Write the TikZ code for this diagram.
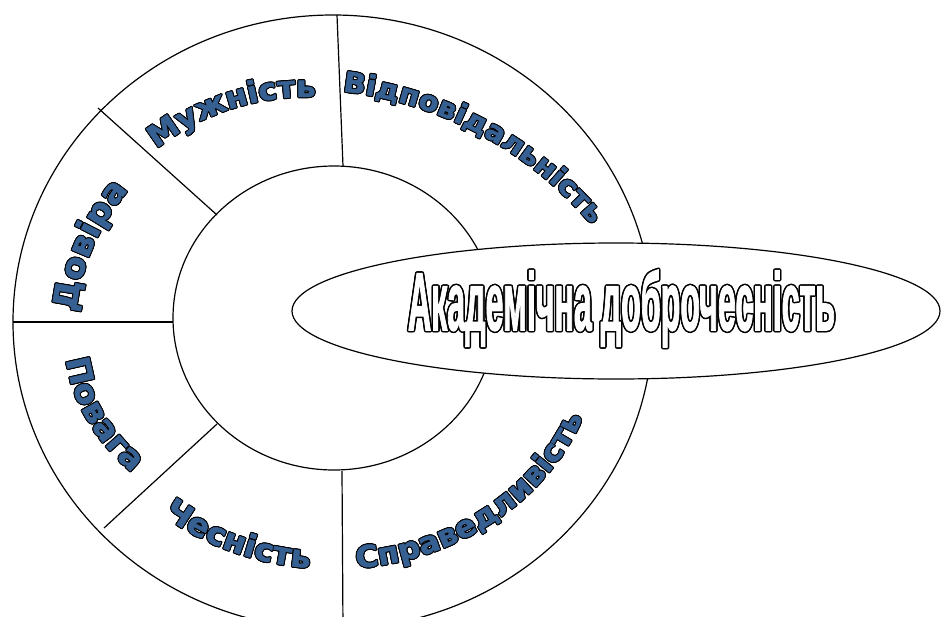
\documentclass[tikz,border=0pt]{standalone}
\usepackage{fontspec}
\usetikzlibrary{decorations.text}
\newfontfamily\lblfam[FakeStretch=1.04,BoldFeatures={FakeBold=1.6}]{DejaVu Sans}
\newfontfamily\ctrfam[BoldFeatures={FakeBold=2.2}]{Liberation Sans}
\definecolor{lblblue}{RGB}{54,96,146}
\newcommand\adtext[1]{\resizebox{427pt}{60pt}{\ctrfam\bfseries\color{#1}Академічна доброчесність}}
% #1 font size, #2 cx, #3 cy, #4 rx, #5 ry, #6 start, #7 end, #8 text
\newcommand\ringlabel[8][30]{%
  \foreach \ang in {0,30,...,330}{
    \path[shift={(\ang:1pt)}, decorate, decoration={text along path, text align=center, text color=black, text={|\lblfam\bfseries\fontsize{#1}{#1}\selectfont|#8}}]
      (#2,#3) ++(#6:#4pt and #5pt) arc[start angle=#6, end angle=#7, x radius=#4pt, y radius=#5pt];
  }
  \path[decorate, decoration={text along path, text align=center, text color=lblblue, text={|\lblfam\bfseries\fontsize{#1}{#1}\selectfont|#8}}]
    (#2,#3) ++(#6:#4pt and #5pt) arc[start angle=#6, end angle=#7, x radius=#4pt, y radius=#5pt];
}
\tikzset{
  ring/.style={draw=black, line width=1.2pt},
  divider/.style={draw=black, line width=1.2pt},
}
\begin{document}
\begin{tikzpicture}[x=1pt,y=1pt]
\useasboundingbox (0,0) rectangle (942,-616);
\fill[white] (0,0) rectangle (942,-616);
% ring
\draw[ring] (333,-322) ellipse[x radius=320pt, y radius=307pt];
\draw[ring] (334,-318) ellipse[x radius=161pt, y radius=152pt];
% divider end points
\coordinate (t1) at (337,-15);   \coordinate (t2) at (343,-166);
\coordinate (u1) at (98,-108);   \coordinate (u2) at (217,-215);
\coordinate (h1) at (13,-322);   \coordinate (h2) at (173,-322);
\coordinate (l1) at (104,-528);  \coordinate (l2) at (217,-424);
\coordinate (b1) at (342,-471);  \coordinate (b2) at (343,-630);
\draw[divider] (t1) -- (t2);
\draw[divider] (u1) -- (u2);
\draw[divider] (h1) -- (h2);
\draw[divider] (l1) -- (l2);
\draw[divider] (b1) -- (b2);
% central ellipse
\draw[ring, fill=white] (616,-311) ellipse[x radius=324pt, y radius=68pt];
% central text
\foreach \ang in {0,30,...,330}{
  \node[anchor=base, inner sep=0pt, shift={(\ang:1.5pt)}] at (621.5,-330) {\adtext{black}};
}
\node[anchor=base, inner sep=0pt] (ad) at (621.5,-330) {\adtext{white}};
% labels
\ringlabel[33]{343}{-332}{268}{237}{200}{120}{Довіра}
\ringlabel[30]{306}{-338}{241}{241}{158}{58}{Мужність}
\ringlabel[28]{300}{-470}{381}{381}{111.8}{11.8}{Відповідальність}
\ringlabel[32]{333}{-340}{268}{200}{161.5}{241.5}{Повага}
\ringlabel[31]{333}{-332}{268}{237}{207}{287}{Чесність}
\ringlabel[30]{333}{-332}{268}{237}{258}{358}{Справедливість}
\end{tikzpicture}
\end{document}
